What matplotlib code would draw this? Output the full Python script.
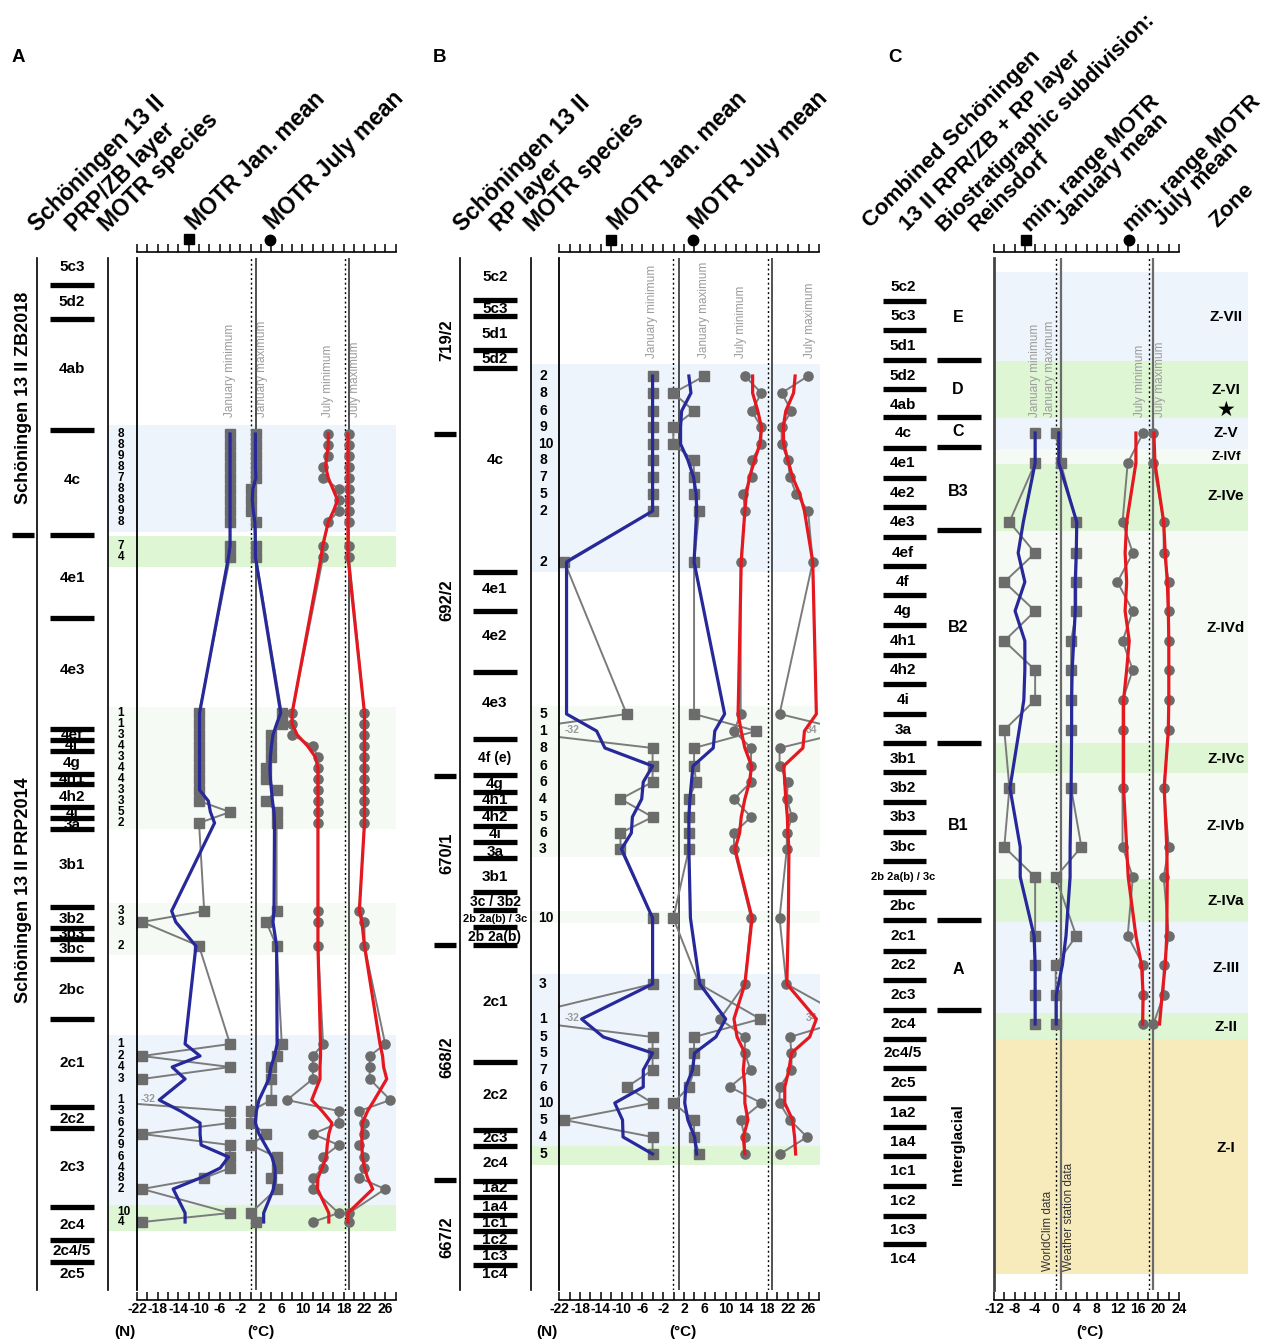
import numpy as np
import matplotlib.pyplot as plt

plt.rcParams['font.family'] = ['Liberation Sans', 'DejaVu Sans']
plt.rcParams['axes.unicode_minus'] = False

W, H = 1269, 1343

# band colours
C_BLUE = '#edf4fb'
C_GREEN = '#def6d3'
C_PALE = '#f5faf4'
C_SAND = '#f8ebbb'
GREY_LN = '#7b7b7b'
GREY_MK = '#6c6c6c'
NAVY = '#27299a'
RED = '#e4181e'

# ---------------- panel A : Schoningen 13 II PRP/ZB ----------------
a_depth = [434, 445, 456, 467, 478, 489, 500, 511, 522,
           546, 557,
           713, 724, 735, 746, 757, 768, 779, 790, 801, 812, 823,
           911, 922, 946,
           1044, 1056, 1067, 1079, 1100, 1111, 1123, 1134, 1145, 1157, 1168, 1178, 1189,
           1213, 1222]
a_species = [8, 8, 9, 8, 7, 8, 8, 9, 8,
             7, 4,
             1, 1, 3, 4, 3, 4, 4, 3, 3, 5, 2,
             3, 3, 2,
             1, 2, 4, 3, 1, 3, 6, 2, 9, 6, 4, 8, 2,
             10, 4]
a_jan_min = [-4, -4, -4, -4, -4, -4, -4, -4, -4,
             -4, -4,
             -10, -10, -10, -10, -10, -10, -10, -10, -10, -4, -10,
             -9, -21, -10,
             -4, -21, -4, -21, -32, -4, -4, -21, -4, -4, -4, -9, -21,
             -4, -21]
a_jan_max = [1, 1, 1, 1, 1, 0, 0, 0, 1,
             1, 1,
             6, 6, 4, 4, 4, 3, 3, 5, 3, 5, 5,
             5, 3, 5,
             6, 5, 4, 4, 4, 0, 0, 3, 0, 5, 5, 4, 5,
             0, 1]
a_jul_min = [15, 15, 15, 14, 14, 17, 17, 17, 15,
             14, 14,
             8, 8, 8, 12, 13, 13, 13, 13, 13, 13, 13,
             13, 13, 13,
             14, 12, 12, 12, 7, 17, 17, 12, 17, 14, 14, 12, 12,
             17, 12]
a_jul_max = [19, 19, 19, 19, 19, 19, 19, 19, 19,
             19, 19,
             22, 22, 22, 22, 22, 22, 22, 22, 22, 22, 22,
             21, 22, 22,
             26, 23, 23, 23, 27, 21, 22, 22, 21, 22, 22, 21, 26,
             19, 19]
a_jan_min_s = [-4, -4, -4, -4, -4, -4, -4, -4, -4,
               -4, -4.3,
               -9.9, -9.9, -9.9, -9.9, -9.9, -9.9, -9.9, -9.9, -8.2, -7.8, -7.0,
               -15.3, -14.5, -10.6,
               -12.7, -9.8, -15.2, -12.7, -17.7, -13.6, -9.8, -9.8, -9.6, -4.3, -5.9, -9.8, -15.0,
               -12.7, -12.7]
a_jan_max_s = [0.9, 0.9, 0.9, 0.9, 1.0, 0.4, 0.3, 0.5, 0.8,
               0.9, 0.9,
               5.8, 5.0, 4.3, 4.0, 3.8, 3.7, 3.8, 4.0, 4.2, 4.5, 4.6,
               4.5, 4.3, 5.0,
               5.1, 4.6, 3.9, 3.5, 1.6, 1.1, 0.9, 1.6, 2.8, 4.1, 4.7, 4.7, 4.4,
               2.5, 2.5]
a_jul_min_s = [15.0, 15.0, 14.7, 14.5, 15.0, 15.9, 16.8, 16.0, 15.0,
               13.9, 13.6,
               8.0, 8.0, 9.0, 11.0, 12.5, 13.0, 13.0, 13.0, 13.0, 13.0, 13.0,
               13.0, 13.0, 13.0,
               13.5, 13.5, 13.4, 13.4, 11.8, 13.8, 15.7, 15.1, 14.8, 14.6, 13.8, 13.0, 12.9,
               15.1, 15.1]
a_jul_max_s = [18.8, 18.8, 18.8, 18.8, 18.8, 18.8, 18.8, 18.8, 18.8,
               18.8, 18.8,
               22, 22, 22, 22, 22, 22, 22, 22, 22, 22, 22,
               21.0, 21.5, 22.0,
               25.0, 25.5, 25.7, 26.3, 23.9, 22.6, 21.6, 21.5, 21.5, 21.6, 22.0, 22.6, 23.6,
               18.8, 18.8]

a_layers = ["5c3", "5d2", "4ab", "4c", "4e1", "4e3", "4ef", "4f", "4g", "4h1", "4h2",
            "4i", "3a", "3b1", "3b2", "3b3", "3bc", "2bc", "2c1", "2c2", "2c3", "2c4",
            "2c4/5", "2c5"]
a_layer_y = [267, 302, 369, 480, 578, 670, 735, 745, 763, 779, 797,
             813, 825, 865, 919, 934, 949, 990, 1063, 1119, 1167, 1225,
             1251, 1274]
a_bars = [285, 319, 430, 535, 618, 729, 740, 751, 774, 784, 807, 818, 829,
          907, 928, 939, 959, 1019, 1107, 1128, 1207, 1240, 1262]
a_band_top = [425, 536, 707, 903, 1035, 1205]
a_band_bot = [532, 567, 829, 955, 1205, 1231]
a_band_col = [C_BLUE, C_GREEN, C_PALE, C_PALE, C_BLUE, C_GREEN]

# ---------------- panel B : Schoningen 13 II RP ----------------
b_depth = [376, 393, 411, 427, 444, 460, 477, 494, 511, 562,
           714, 731, 748, 766, 782, 799, 817, 833, 849,
           918,
           984, 1019, 1037, 1053, 1070, 1087, 1103, 1120, 1137, 1154]
b_species = [2, 8, 6, 9, 10, 8, 7, 5, 2, 2,
             5, 1, 8, 6, 6, 4, 5, 6, 3,
             10,
             3, 1, 5, 5, 7, 6, 10, 5, 4, 5]
b_jan_min = [-4, -4, -4, -4, -4, -4, -4, -4, -4, -21,
             -9, -32, -4, -4, -4, -10.2, -4, -10.2, -10.2,
             -4,
             -4, -32, -4, -4, -4, -9, -4, -21, -4, -4]
b_jan_max = [6, 0, 4, 0, 0, 3.9, 4, 4, 5, 4,
             4, 16, 4, 4, 4.4, 3, 3, 3, 3,
             0,
             5, 16.8, 4, 4, 4, 3, 0, 4, 4, 5]
b_jul_min = [13.8, 17, 15.1, 17, 17, 15.1, 15.1, 13.5, 13.8, 13,
             13, 11.7, 15, 15, 15, 11.7, 15, 11.7, 11.7,
             15,
             13.8, 9, 13.8, 13.8, 14.9, 10.9, 17, 13, 13.8, 13.8]
b_jul_max = [26, 20.9, 22.8, 20.9, 20.9, 22.1, 22.5, 23.7, 26, 26.9,
             20.5, 34, 20.5, 20.5, 22.1, 21.9, 22.9, 21.9, 21.9,
             20.5,
             21.8, 34, 22.5, 22.8, 22.8, 20.5, 20.5, 22.5, 25.8, 20.6]
b_jan_min_s = [-4, -4, -4, -4, -4, -4, -4, -4, -4, -20.6,
               -20.6, -14.8, -13.2, -4, -5.8, -6.1, -7.9, -8.1, -10,
               -4,
               -4, -17.7, -13.5, -4, -5.8, -5.8, -11.3, -9.8, -9.7, -4]
b_jan_max_s = [3.0, 3.4, 1.6, 1.4, 1.4, 2.8, 3.9, 4.4, 4.5, 4.0,
               9.9, 8.0, 7.7, 3.8, 3.5, 3.2, 3.0, 3.0, 3.0,
               3.3,
               5.1, 10.1, 8.2, 4.1, 3.7, 2.4, 2.2, 2.8, 4.1, 4.5]
b_jul_min_s = [15.3, 15.3, 16.3, 17.0, 16.7, 15.7, 14.7, 14.1, 13.8, 13.1,
               12.5, 13.1, 13.8, 15.1, 14.7, 13.8, 13.1, 12.8, 11.9,
               15.2,
               13.8, 11.7, 12.3, 13.8, 13.5, 13.8, 13.8, 14.4, 13.5, 13.8]
b_jul_max_s = [23.5, 23.2, 21.7, 21.2, 21.3, 22.1, 23.0, 24.4, 25.3, 26.9,
               27.6, 25.3, 25.0, 21.3, 21.5, 21.7, 22.0, 22.1, 22.3,
               22.2,
               21.9, 27.6, 26.3, 22.8, 22.3, 21.5, 21.5, 23.0, 23.4, 23.6]

b_layers = ["5c2", "5c3", "5d1", "5d2", "4c", "4e1", "4e2", "4e3", "4f (e)", "4g",
            "4h1", "4h2", "4i", "3a", "3b1", "3c / 3b2", "2b 2a(b) / 3c", "2b 2a(b)",
            "2c1", "2c2", "2c3", "2c4", "1a2", "1a4", "1c1", "1c2", "1c3", "1c4"]
b_layer_y = [277, 309, 334, 359, 460, 589, 636, 703, 758, 784,
             800, 817, 834, 852, 877, 902, 919, 937,
             1002, 1095, 1138, 1163, 1188, 1207, 1223, 1240, 1256, 1274]
b_bars = [300, 316, 350, 368, 572, 611, 672, 739, 775, 792, 808, 826, 842, 858,
          892, 910, 927, 945, 1062, 1130, 1146, 1181, 1197, 1215, 1231, 1247, 1265]
b_groups = ["719/2", "692/2", "670/1", "668/2", "667/2"]
b_group_y = [340, 600, 853, 1057, 1237]
b_group_breaks = [434, 776, 945, 1180]
b_band_top = [364, 706, 911, 974, 1146]
b_band_bot = [572, 857, 923, 1146, 1165]
b_band_col = [C_BLUE, C_PALE, C_PALE, C_BLUE, C_GREEN]

# ---------------- panel C : combined + Reinsdorf zones ----------------
c_depth = [433, 463, 522, 553, 582, 611, 641, 670, 700, 730, 788, 847, 877,
           936, 965, 995, 1024]
c_jan_min = [-4, -4, -9, -4, -10, -4, -10, -4, -4, -10, -9, -10, -4, -4, -4, -4, -4]
c_jan_max = [0, 1, 4, 4, 4, 4, 3, 3, 3, 3, 3, 5, 0, 4, 0, 0, 0]
c_jul_min = [17, 14, 13, 15, 12, 15, 13, 15, 13, 13, 13, 13, 15, 14, 17, 17, 17]
c_jul_max = [19, 19, 21, 21, 22, 22, 22, 22, 22, 22, 21, 22, 21, 22, 21, 21, 19]
c_jan_min_s = [-4, -4, -6.3, -7.3, -6.0, -7.9, -6.0, -6.0, -6.2, -7.1, -8.9, -6.9, -6.9,
               -4.2, -4, -4, -4]
c_jan_max_s = [0.6, 0.6, 4.1, 4.0, 3.8, 3.8, 3.5, 3.2, 3.1, 3.1, 3.0, 2.8, 2.8,
               2.0, 1.3, 0.1, 0.1]
c_jul_min_s = [15.6, 15.6, 13.8, 13.5, 13.8, 13.5, 14.3, 13.8, 13.2, 13.2, 13.2, 13.8, 14.1,
               15.6, 16.7, 17.0, 16.9]
c_jul_max_s = [19.1, 19.3, 21.0, 21.3, 21.7, 21.9, 22.0, 22.0, 22.0, 21.9, 21.1, 21.6, 21.7,
               21.6, 21.3, 20.7, 20.2]

c_layers = ["5c2", "5c3", "5d1", "5d2", "4ab", "4c", "4e1", "4e2", "4e3", "4ef", "4f",
            "4g", "4h1", "4h2", "4i", "3a", "3b1", "3b2", "3b3", "3bc", "2b 2a(b) / 3c",
            "2bc", "2c1", "2c2", "2c3", "2c4", "2c4/5", "2c5", "1a2", "1a4", "1c1",
            "1c2", "1c3", "1c4"]
c_layer_y = [287, 316, 346, 376, 405, 433, 463, 493, 522, 553, 582,
             611, 641, 670, 700, 730, 759, 788, 817, 847, 877,
             906, 936, 965, 995, 1024, 1053, 1083, 1113, 1142, 1171,
             1201, 1230, 1259]
c_bars = [301, 330, 360, 389, 417, 448, 478, 507, 537, 566, 595, 625, 655, 684, 714,
          743, 772, 802, 832, 861, 892, 920, 951, 980, 1010, 1039, 1068, 1098, 1127,
          1156, 1186, 1216, 1244]
c_bio = ["E", "D", "C", "B3", "B2", "B1", "A"]
c_bio_y = [317, 390, 432, 492, 628, 826, 970]
c_bio_bars = [360, 417, 447, 530, 743, 920, 1010]
zone_names = ["Z-VII", "Z-VI", "Z-V", "Z-IVf", "Z-IVe", "Z-IVd", "Z-IVc", "Z-IVb",
              "Z-IVa", "Z-III", "Z-II", "Z-I"]
zone_label_y = [317, 390, 433, 457, 496, 628, 759, 826, 901, 968, 1027, 1148]
zone_top = [272, 361, 418, 449, 464, 531, 743, 773, 879, 922, 1013, 1039]
zone_bot = [361, 418, 449, 464, 531, 743, 773, 879, 922, 1013, 1039, 1274]
zone_col = [C_BLUE, C_GREEN, C_BLUE, C_PALE, C_GREEN, C_PALE, C_GREEN, C_PALE,
            C_GREEN, C_BLUE, C_GREEN, C_SAND]

# reference climate (WorldClim / weather station) Jan and July means
ref_jan = [0, 1]
ref_jul = [18.2, 19]

fig = plt.figure(figsize=(W / 100, H / 100), dpi=100)
lay = fig.add_axes([0, 0, 1, 1])
lay.set_xlim(0, W)
lay.set_ylim(H, 0)
lay.axis('off')


def px_axes(x0, x1, y0, y1):
    return fig.add_axes([x0 / W, 1 - y1 / H, (x1 - x0) / W, (y1 - y0) / H])


def bold(x, y, s, size=11, **kw):
    kw.setdefault('ha', 'center')
    kw.setdefault('va', 'center')
    lay.text(x, y, s, fontsize=size, fontweight='bold', **kw)


def header(x, y, s, size=16.5):
    lay.text(x, y, s, rotation=45, rotation_mode='anchor', ha='left', va='baseline',
             fontsize=size, fontweight='bold')


def hbar(x0, x1, y, lw=3.8):
    lay.plot([x0, x1], [y, y], color='k', lw=lw, solid_capstyle='butt', zorder=3)


def bands(x0, x1, tops, bots, cols):
    for t, b, c in zip(tops, bots, cols):
        lay.fill_between([x0, x1], t, b, color=c, lw=0, zorder=0)


def data_axes(x0, x1, lo, hi, spine_col='k', spine_w=1.3):
    ax = px_axes(x0, x1, 258, 1290)
    ax.set_xlim(lo, hi)
    ax.set_ylim(1290, 258)
    ax.patch.set_alpha(0)
    for s in ('top', 'right', 'bottom'):
        ax.spines[s].set_visible(False)
    ax.spines['left'].set_color(spine_col)
    ax.spines['left'].set_linewidth(spine_w)
    ax.set_xticks([])
    ax.set_yticks([])
    return ax


def refs(ax, solid_col='#333333', solid_w=1.2):
    for v in ref_jan[:1] + ref_jul[:1]:
        ax.axvline(v, color='k', lw=1.0, ls=(0, (1.4, 2.0)), zorder=1)
    for v in ref_jan[1:] + ref_jul[1:]:
        ax.axvline(v, color=solid_col, lw=solid_w, zorder=1)


def series(ax, depth, raw, smooth, lo, hi, lab_lo, lab_hi):
    for vals, mk in zip(raw, ('s', 's', 'o', 'o')):
        ax.plot(vals, depth, color=GREY_LN, lw=1.4, marker=mk, ms=6.6,
                mfc=GREY_MK, mec=GREY_MK, zorder=2)
        for v, d in zip(vals, depth):
            if v < lo:
                ax.text(lab_lo, d - 1, f'{v:g}', color='#9a9a9a', fontsize=7.5,
                        fontweight='bold', ha='center', va='center', zorder=2)
            elif v > hi:
                ax.text(lab_hi, d - 1, f'{v:g}', color='#9a9a9a', fontsize=7.5,
                        fontweight='bold', ha='center', va='center', zorder=2)
    for vals, c in zip(smooth, (NAVY, NAVY, RED, RED)):
        ax.plot(vals, depth, color=c, lw=2.3, zorder=3, solid_joinstyle='round')


def tick_row(x0, x1, lo, hi, step, y, labelled):
    t = px_axes(x0, x1, y - 10, y)
    t.set_xlim(lo, hi)
    t.patch.set_alpha(0)
    for s in ('top', 'left', 'right'):
        t.spines[s].set_visible(False)
    t.spines['bottom'].set_linewidth(1.2)
    t.set_yticks([])
    t.set_xticks(np.arange(lo, hi + 0.1, step))
    t.set_xticks(np.arange(lo, hi + 0.1, 2), minor=True)
    t.tick_params(axis='x', which='both', direction='in', length=5.5, width=1.1, pad=1.5)
    if labelled:
        t.set_xticklabels([f'{v:g}' for v in np.arange(lo, hi + 0.1, step)],
                          fontsize=10, fontweight='bold')
    else:
        t.set_xticklabels([])


def grey_labels(xs, ybot):
    for x, s in zip(xs, ("January minimum", "January maximum", "July minimum", "July maximum")):
        lay.text(x, ybot, s, rotation=90, ha='center', va='bottom', fontsize=8.5,
                 color='#9c9c9c')


def layer_column(names, ys, bars, xc, x0, x1, small=()):
    for s, y in zip(names, ys):
        size = 8 if s in small else (10 if len(s) > 5 else 11)
        bold(xc, y, s, size=size, zorder=2)
    for y in bars:
        hbar(x0, x1, y)


# ===================== panel A =====================
bold(18, 57, "A", size=13.5)
header(37, 232, "Schöningen 13 II")
header(74, 232, "PRP/ZB layer")
header(107, 232, "MOTR species")
header(195, 231, "MOTR Jan. mean")
header(273, 230, "MOTR July mean")
lay.plot(189, 239, 's', color='k', ms=7.5)
lay.plot(270, 240, 'o', color='k', ms=7.5)

for x in (37, 108):
    lay.plot([x, x], [258, 1290], color='k', lw=1.2)
bold(24, 398, "Schöningen 13 II ZB2018", size=13, rotation=90)
bold(24, 890, "Schöningen 13 II PRP2014", size=13, rotation=90)
hbar(12, 34, 535)
layer_column(a_layers, a_layer_y, a_bars, 72, 50, 94)
bands(108, 395.5, a_band_top, a_band_bot, a_band_col)
for n, d in zip(a_species, a_depth):
    if n >= 10:
        bold(124, d - 1, str(n), size=8.5)
    else:
        bold(121, d, str(n), size=8.5)

axA = data_axes(137, 395.5, -22, 28)
refs(axA)
series(axA, a_depth, (a_jan_min, a_jan_max, a_jul_min, a_jul_max),
       (a_jan_min_s, a_jan_max_s, a_jul_min_s, a_jul_max_s), -22, 28, -19.9, 26.6)
grey_labels((230, 262, 328, 355), 417)
tick_row(137, 395.5, -22, 28, 4, 252, False)
tick_row(137, 395.5, -22, 28, 4, 1300, True)
bold(125, 1332, "(N)", size=11)
bold(261, 1332, "(°C)", size=11)

# ===================== panel B =====================
bold(439, 57, "B", size=13.5)
header(462, 232, "Schöningen 13 II")
header(499, 232, "RP layer")
header(533, 232, "MOTR species")
header(617, 231, "MOTR Jan. mean")
header(697, 230, "MOTR July mean")
lay.plot(611, 240, 's', color='k', ms=7.5)
lay.plot(693, 240, 'o', color='k', ms=7.5)

for x in (460, 531):
    lay.plot([x, x], [258, 1290], color='k', lw=1.2)
for s, y in zip(b_groups, b_group_y):
    bold(447, y, s, size=12, rotation=90)
for y in b_group_breaks:
    hbar(434, 456, y)
layer_column(b_layers, b_layer_y, b_bars, 495, 473, 517, small=("2b 2a(b) / 3c",))
bands(531, 820, b_band_top, b_band_bot, b_band_col)
for n, d in zip(b_species, b_depth):
    bold(543 + (3 if n >= 10 else 0), d, str(n), size=10)

axB = data_axes(559.3, 820, -22, 28.3)
refs(axB)
series(axB, b_depth, (b_jan_min, b_jan_max, b_jul_min, b_jul_max),
       (b_jan_min_s, b_jan_max_s, b_jul_min_s, b_jul_max_s), -22, 28.3, -19.6, 26.6)
grey_labels((652, 704, 741, 810), 358)
tick_row(559.3, 819, -22, 28, 4, 252, False)
tick_row(559.3, 819, -22, 28, 4, 1300, True)
bold(547, 1332, "(N)", size=11)
bold(683, 1332, "(°C)", size=11)

# ===================== panel C =====================
bold(895, 57, "C", size=13.5)
header(870, 228, "Combined Schöningen", 16)
header(907, 231, "13 II RPR/ZB + RP layer", 16)
header(944, 232, "Biostratigraphic subdivision:", 15.5)
header(977, 232, "Reinsdorf", 16)
header(1030, 232, "min. range MOTR", 16)
header(1063, 226, "January mean", 16)
header(1131, 232, "min. range MOTR", 16)
header(1162, 226, "July mean", 16)
header(1217, 228, "Zone", 16)
lay.plot(1026, 240, 's', color='k', ms=7.5)
lay.plot(1129, 240, 'o', color='k', ms=7.5)

layer_column(c_layers, c_layer_y, c_bars, 903, 883, 926, small=("2b 2a(b) / 3c",))
for s, y in zip(c_bio, c_bio_y):
    bold(958, y, s, size=11.5)
for y in c_bio_bars:
    hbar(937, 981, y)
bold(958, 1145, "Interglacial", size=11, rotation=90)
bands(994, 1248, zone_top, zone_bot, zone_col)
for s, y in zip(zone_names, zone_label_y):
    bold(1226, y, s, size=9.5 if s == "Z-IVf" else 11)
lay.text(1226, 410, "★", fontsize=15, ha='center', va='center', family='DejaVu Sans')

axC = data_axes(994, 1248, -12, 37.4, spine_col='#444444', spine_w=2.0)
refs(axC, solid_col='#6a6a6a', solid_w=1.6)
series(axC, c_depth, (c_jan_min, c_jan_max, c_jul_min, c_jul_max),
       (c_jan_min_s, c_jan_max_s, c_jul_min_s, c_jul_max_s), -12, 37.4, -10, 36)
grey_labels((1035, 1050, 1140, 1160), 417)
lay.text(1048, 1271, "WorldClim data", rotation=90, ha='center', va='bottom',
         fontsize=8.5, color='#333333')
lay.text(1069, 1271, "Weather station data", rotation=90, ha='center', va='bottom',
         fontsize=8.5, color='#333333')
tick_row(994, 1179, -12, 24, 4, 252, False)
tick_row(994, 1179, -12, 24, 4, 1300, True)
bold(1090, 1332, "(°C)", size=11)

fig.savefig("out.png", dpi=100)
